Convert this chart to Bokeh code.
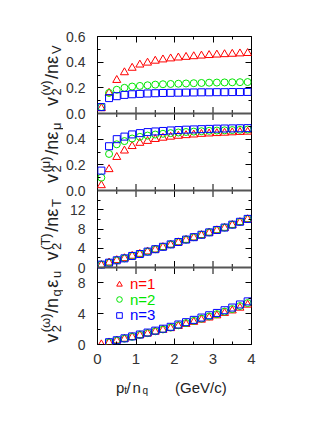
import math
from bokeh.plotting import figure
from bokeh.layouts import column, row
from bokeh.models import (Range1d, LinearAxis, FixedTicker, Legend,
                          LegendItem, CustomJSTickFormatter, Span, Grid,
                          ColumnDataSource)
from bokeh.core.properties import value
from bokeh.embed import file_html
from bokeh.resources import INLINE

FONT = "Liberation Sans"
NAN = float("nan")

# ---------------- data ----------------
x_vals = [0.1, 0.3, 0.5, 0.7, 0.9, 1.1, 1.3, 1.5, 1.7, 1.9,
          2.1, 2.3, 2.5, 2.7, 2.9, 3.1, 3.3, 3.5, 3.7, 3.9]

# panel 1: v2^(v)/n eps_v
p1_n1 = [0.04, 0.16, 0.26, 0.32, 0.355, 0.38, 0.395, 0.41, 0.42, 0.428,
         0.435, 0.44, 0.445, 0.45, 0.454, 0.458, 0.461, 0.464, 0.467, 0.47]
p1_n2 = [0.05, 0.16, 0.185, 0.20, 0.21, 0.215, 0.22, 0.225, 0.228, 0.23,
         0.232, 0.234, 0.236, 0.238, 0.24, 0.241, 0.242, 0.243, 0.244, 0.245]
p1_n3 = [0.05, 0.12, 0.135, 0.145, 0.15, 0.153, 0.156, 0.158, 0.16, 0.161,
         0.162, 0.163, 0.164, 0.165, 0.165, 0.166, 0.166, 0.167, 0.167, 0.168]

# panel 2: v2^(mu)/n eps_mu
p2_n1 = [0.04, 0.165, 0.26, 0.31, 0.345, 0.37, 0.385, 0.40, 0.41, 0.418,
         0.425, 0.43, 0.435, 0.44, 0.443, 0.446, 0.449, 0.452, 0.455, 0.457]
p2_n2 = [0.10, 0.285, 0.36, 0.385, 0.405, 0.418, 0.428, 0.436, 0.442, 0.447,
         0.452, 0.456, 0.459, 0.462, 0.465, 0.467, 0.469, 0.471, 0.473, 0.475]
p2_n3 = [0.155, 0.345, 0.40, 0.42, 0.437, 0.447, 0.455, 0.46, 0.464, 0.468,
         0.471, 0.474, 0.476, 0.478, 0.48, 0.482, 0.483, 0.484, 0.485, 0.486]

# panel 3: v2^(T)/n eps_T
p3_n1 = [0.5, 1.0, 1.5, 1.9, 2.4, 2.8, 3.3, 3.7, 4.2, 4.7,
         5.2, 5.7, 6.2, 6.7, 7.2, 7.7, 8.2, 8.8, 9.4, 10.0]
p3_n2 = [0.6, 1.0, 1.5, 1.9, 2.4, 2.8, 3.3, 3.8, 4.3, 4.8,
         5.3, 5.8, 6.3, 6.8, 7.3, 7.8, 8.3, 8.9, 9.5, 10.1]
p3_n3 = [0.6, 1.0, 1.5, 1.9, 2.4, 2.8, 3.3, 3.8, 4.3, 4.8,
         5.3, 5.8, 6.3, 6.8, 7.3, 7.8, 8.3, 8.9, 9.5, 10.1]

# panel 4: v2^(omega)/n_q eps_u
p4_n1 = [0.0, 0.25, 0.5, 0.72, 0.95, 1.18, 1.4, 1.65, 1.88, 2.1,
         2.38, 2.65, 2.92, 3.2, 3.48, 3.76, 4.08, 4.4, 4.76, 5.15]
p4_n2 = [NAN, 0.28, 0.52, 0.76, 1.0, 1.24, 1.48, 1.72, 1.96, 2.2,
         2.5, 2.78, 3.07, 3.36, 3.65, 3.94, 4.27, 4.6, 4.99, 5.38]
p4_n3 = [NAN, 0.3, 0.55, 0.8, 1.05, 1.3, 1.55, 1.8, 2.05, 2.3,
         2.6, 2.9, 3.2, 3.5, 3.8, 4.1, 4.45, 4.8, 5.2, 5.6]

x_range = (0, 4)
x_major = [0, 1, 2, 3, 4]
x_minor = [0.5, 1.5, 2.5, 3.5]
x_tick_labels = ["0", "1", "2", "3", "4"]

y_ranges = [(0, 0.6), (0, 0.6), (0, 16), (0, 10)]
y_major = [[0, 0.2, 0.4, 0.6], [0, 0.2, 0.4], [0, 4, 8, 12], [0, 4, 8]]
y_major_labels = [["0.0", "0.2", "0.4", "0.6"], ["0.0", "0.2", "0.4"],
                  ["0", "4", "8", "12"], ["0", "4", "8"]]
y_minor = [[0.1, 0.3, 0.5], [0.1, 0.3, 0.5], [2, 6, 10, 14], [2, 6]]

series_labels = ["n=1", "n=2", "n=3"]
colors = ["#ff0000", "#00e600", "#0000ff"]
markers = ["triangle", "circle", "square"]
marker_sizes = [8, 7, 7]

panel_data = [(p1_n1, p1_n2, p1_n3), (p2_n1, p2_n2, p2_n3),
              (p3_n1, p3_n2, p3_n3), (p4_n1, p4_n2, p4_n3)]

# y-axis titles: pieces (text, kind)  kind: m main, sub, ss (sub, sup)
y_labels = [
    [("v", "m"), (("2", "(v)"), "ss"), ("/nε", "m"), ("V", "sub")],
    [("v", "m"), (("2", "(μ)"), "ss"), ("/nε", "m"), ("μ", "sub")],
    [("v", "m"), (("2", "(T)"), "ss"), ("/nε", "m"), ("T", "sub")],
    [("v", "m"), (("2", "(ω)"), "ss"), ("/n", "m"), ("q", "sub"), ("ε", "m"), ("u", "sub")],
]
# x-axis title pieces: (text, kind)
x_title = [("p", "m"), ("t", "sub"), ("/", "m"), ("n", "m"), ("q", "sub"), ("(GeV/c)", "m")]

# ---------------- layout constants ----------------
W = {'v': 0.5, '2': 0.556, '(': 0.333, ')': 0.333, '/': 0.278, 'n': 0.556,
     'ε': 0.46, 'μ': 0.577, 'T': 0.611, 'ω': 0.70, 'q': 0.556, 'u': 0.556,
     'V': 0.667, 'p': 0.556, 't': 0.278, ' ': 0.278}


def tw(s, size):
    return sum(W.get(c, 0.556) for c in s) * size


FRAME_W = 154
PANEL_H = 77
NP = 4
FRAME_H = PANEL_H * NP
TOP = 36
BOTTOM = 28
LEFT = 95
LAB_W = 63
MAIN = 18
SMALL = 13
GAP = 1.5
BASE_X = 51.5
SUB_X = 56
SUP_X = 44.5


def hide_grids(fig):
    for r in list(fig.center):
        if isinstance(r, Grid):
            r.visible = False


# ---------------- main plot ----------------
p = figure(frame_width=FRAME_W, frame_height=FRAME_H,
           x_range=Range1d(*x_range), y_range=Range1d(0, NP),
           output_backend="svg", toolbar_location=None,
           x_axis_location=None, y_axis_location=None,
           min_border_left=LEFT - LAB_W, min_border_right=60,
           min_border_top=TOP, min_border_bottom=BOTTOM)
hide_grids(p)
p.outline_line_color = "black"
p.outline_line_width = 1
p.background_fill_color = "white"
p.border_fill_color = "white"

for i, (lo, hi) in enumerate(y_ranges):
    span = hi - lo
    p.extra_y_ranges[f"p{i}"] = Range1d(start=lo - (NP - 1 - i) * span, end=hi + i * span)

tick_pos, tick_lab, minor_pos = [], [], []
for i, (lo, hi) in enumerate(y_ranges):
    off = NP - 1 - i
    for v, lab in zip(y_major[i], y_major_labels[i]):
        tick_pos.append(off + (v - lo) / (hi - lo))
        tick_lab.append(lab)
    for v in y_minor[i]:
        minor_pos.append(off + (v - lo) / (hi - lo))

yt = FixedTicker(ticks=tick_pos, minor_ticks=minor_pos)
yfmt = CustomJSTickFormatter(args=dict(pos=tick_pos, labs=tick_lab), code="""
    let best = 0, d = 1e9;
    for (let k = 0; k < pos.length; k++) {
        const dd = Math.abs(pos[k] - tick);
        if (dd < d) { d = dd; best = k; }
    }
    return labs[best];
""")
xt = FixedTicker(ticks=x_major, minor_ticks=x_minor)


def style_axis(ax, show):
    ax.axis_line_color = None
    ax.major_tick_in = 6
    ax.major_tick_out = 0
    ax.minor_tick_in = 3
    ax.minor_tick_out = 0
    ax.major_tick_line_color = "black"
    ax.minor_tick_line_color = "black"
    ax.major_label_text_font = FONT
    if show:
        ax.major_label_text_font_size = "15px"
        ax.major_label_text_color = "#333333"
    else:
        ax.major_label_text_font_size = "1px"
        ax.major_label_text_color = None
        ax.major_label_text_alpha = 0
        ax.major_label_standoff = 0


ax_b = LinearAxis(ticker=xt, major_label_overrides={k: s for k, s in zip(x_major, x_tick_labels)})
style_axis(ax_b, True)
ax_b.major_label_standoff = 9
p.add_layout(ax_b, "below")
ax_t = LinearAxis(ticker=xt)
style_axis(ax_t, False)
p.add_layout(ax_t, "above")

ax_l = LinearAxis(ticker=yt, formatter=yfmt)
style_axis(ax_l, True)
ax_l.major_label_standoff = 12
ax_l.major_label_text_font_size = "14px"
p.add_layout(ax_l, "left")
ax_r = LinearAxis(ticker=yt)
style_axis(ax_r, False)
p.add_layout(ax_r, "right")

for b in range(1, NP):
    p.add_layout(Span(location=b, dimension="width", line_color="#555555", line_width=2))
sep_y = [b for b in range(1, NP) for _ in x_major[1:-1]]
sep_x = [x for _ in range(1, NP) for x in x_major[1:-1]]
p.scatter(sep_x, sep_y, marker="dash", angle=math.pi / 2, size=13,
          line_color="black", line_width=1)
sep_ym = [b for b in range(1, NP) for _ in x_minor]
sep_xm = [x for _ in range(1, NP) for x in x_minor]
p.scatter(sep_xm, sep_ym, marker="dash", angle=math.pi / 2, size=7,
          line_color="black", line_width=1)

legend_rs = []
for i in range(NP):
    for s in range(3):
        r = p.scatter(x_vals, panel_data[i][s], marker=markers[s],
                      size=marker_sizes[s], fill_color=None,
                      line_color=colors[s], line_width=1, y_range_name=f"p{i}")
        if i == NP - 1:
            legend_rs.append(r)

leg_y = [52, 36.5, 21]
for s in range(3):
    leg = Legend(items=[LegendItem(label=series_labels[s], renderers=[legend_rs[s]])],
                 location=(15, leg_y[s]), border_line_color=None,
                 background_fill_alpha=0, padding=0, margin=0,
                 spacing=0, glyph_width=14, glyph_height=14,
                 label_standoff=4, label_text_font=FONT,
                 label_text_font_size="15px",
                 label_text_color=colors[s], label_height=14)
    p.add_layout(leg)

# ---------------- y-axis title strip ----------------
lf = figure(frame_width=LAB_W, frame_height=FRAME_H,
            x_range=Range1d(0, LAB_W), y_range=Range1d(0, FRAME_H),
            output_backend="svg", toolbar_location=None,
            x_axis_location=None, y_axis_location=None,
            min_border_left=0, min_border_right=0,
            min_border_top=TOP, min_border_bottom=BOTTOM)
hide_grids(lf)
lf.outline_line_color = None

yl_x, yl_y, yl_t, yl_s = [], [], [], []
for i, parts in enumerate(y_labels):
    total = 0
    for t, k in parts:
        if k == "m":
            total += tw(t, MAIN) + GAP
        elif k == "ss":
            total += max(tw(t[0], SMALL), tw(t[1], SMALL)) + GAP
        else:
            total += tw(t, SMALL) + GAP
    y = (NP - 1 - i) * PANEL_H + (PANEL_H - total) / 2.0
    for t, k in parts:
        if k == "m":
            yl_x.append(BASE_X); yl_y.append(y); yl_t.append(t); yl_s.append(f"{MAIN}px")
            y += tw(t, MAIN) + GAP
        elif k == "sub":
            yl_x.append(SUB_X); yl_y.append(y); yl_t.append(t); yl_s.append(f"{SMALL}px")
            y += tw(t, SMALL) + GAP
        else:
            yl_x.append(SUB_X); yl_y.append(y); yl_t.append(t[0]); yl_s.append(f"{SMALL}px")
            yl_x.append(SUP_X); yl_y.append(y); yl_t.append(t[1]); yl_s.append(f"{SMALL}px")
            y += max(tw(t[0], SMALL), tw(t[1], SMALL)) + GAP

lf.text(x="x", y="y", text="t", text_font_size="s",
        source=ColumnDataSource(dict(x=yl_x, y=yl_y, t=yl_t, s=yl_s)),
        angle=math.pi / 2, text_font=value(FONT), text_color="#222222",
        text_align="left", text_baseline="alphabetic")

# ---------------- x-axis title strip ----------------
XT_H = 26
xf = figure(frame_width=FRAME_W, frame_height=XT_H,
            x_range=Range1d(0, FRAME_W), y_range=Range1d(0, XT_H),
            output_backend="svg", toolbar_location=None,
            x_axis_location=None, y_axis_location=None,
            min_border_left=LEFT, min_border_right=60,
            min_border_top=0, min_border_bottom=0)
hide_grids(xf)
xf.outline_line_color = None

XMAIN = 15
XSMALL = 10
x_start = {"p": 20.5, "t": 28.8, "/": 31.0, "n": 37.0, "q": 47.0, "(GeV/c)": 79.5}
xt_x, xt_y, xt_t, xt_s = [], [], [], []
for t, k in x_title:
    xt_x.append(x_start[t])
    xt_y.append(11.5 if k == "m" else 8.0)
    xt_t.append(t)
    xt_s.append(f"{XMAIN}px" if k == "m" else f"{XSMALL}px")
xf.text(x="x", y="y", text="t", text_font_size="s",
        source=ColumnDataSource(dict(x=xt_x, y=xt_y, t=xt_t, s=xt_s)),
        text_font=value(FONT), text_color="#222222",
        text_align="left", text_baseline="alphabetic")

layout = column(row(lf, p, spacing=0), xf, spacing=0)
open("out.html", "w").write(file_html(layout, INLINE))
